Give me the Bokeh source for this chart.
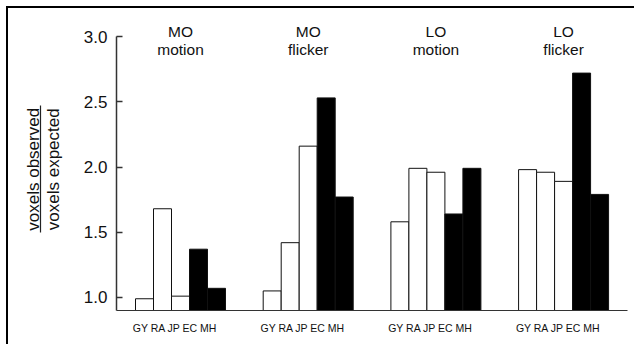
from bokeh.plotting import figure
from bokeh.models import Range1d, FixedTicker, LinearAxis, ColumnDataSource, PrintfTickFormatter, InlineStyleSheet
from bokeh.core.properties import value
from bokeh.embed import file_html
from bokeh.resources import INLINE

# ---- data ----
regions = ["MO", "MO", "LO", "LO"]
stimuli = ["motion", "flicker", "motion", "flicker"]
subjects = ["GY", "RA", "JP", "EC", "MH"]
subject_fill = ["white", "white", "white", "black", "black"]
mo_motion = [0.99, 1.68, 1.01, 1.37, 1.07]
mo_flicker = [1.05, 1.42, 2.16, 2.53, 1.77]
lo_motion = [1.58, 1.99, 1.96, 1.64, 1.99]
lo_flicker = [1.98, 1.96, 1.89, 2.72, 1.79]
y_ticks = [1.0, 1.5, 2.0, 2.5, 3.0]
numerator_label = "voxels observed"
denominator_label = "voxels expected"

groups = [mo_motion, mo_flicker, lo_motion, lo_flicker]

# ---- layout helpers ----
GROUP_STEP = 7.094
BASE = 0.9
FONT = "Liberation Sans"
PAD = "\u00a0\u00a0\u00a0\u2009"  # trailing pad to lower the rotated label slightly

xs, tops, fills = [], [], []
for g, vals in enumerate(groups):
    for i, v in enumerate(vals):
        xs.append(g * GROUP_STEP + i + 0.5)
        tops.append(v)
        fills.append(subject_fill[i])
src = ColumnDataSource(dict(x=xs, top=tops, fill=fills))

group_centers = [g * GROUP_STEP + 2.5 for g in range(len(groups))]

p = figure(width=628, height=338, output_backend="svg", toolbar_location=None,
           x_range=Range1d(-1.056, -1.056 + 511 / 18.0), y_range=Range1d(BASE, 3.2),
           x_axis_location=None, y_axis_location=None,
           min_border_left=108, min_border_right=9, min_border_top=2, min_border_bottom=36)
p.outline_line_color = None
p.xgrid.visible = False
p.ygrid.visible = False
p.background_fill_color = "white"
p.border_fill_color = "white"
p.styles = {"margin-top": "8px", "margin-left": "8px"}
p.stylesheets = [InlineStyleSheet(css=":host { box-shadow: -2px -2px 0px 0px #000000; }")]

p.vbar(x="x", top="top", bottom=BASE, width=1.0, source=src,
       fill_color="fill", line_color="#111111", line_width=1)

# group titles
p.text(x=group_centers, y=[3.04] * 4, text=regions, text_align="center",
       text_baseline="alphabetic", text_font=value(FONT), text_font_size="15.5px", text_color="#111111")
p.text(x=group_centers, y=[2.90] * 4, text=stimuli, text_align="center",
       text_baseline="alphabetic", text_font=value(FONT), text_font_size="15.5px", text_color="#111111")

# x axis
xlab_pos = [round(c - 0.3, 3) for c in group_centers]
xaxis = LinearAxis(ticker=FixedTicker(ticks=xlab_pos),
                   major_label_overrides={t: " ".join(subjects) for t in xlab_pos})
xaxis.major_tick_in = 0
xaxis.major_tick_out = 0
xaxis.minor_tick_line_color = None
xaxis.axis_line_color = "#333333"
xaxis.axis_line_width = 1.2
xaxis.major_label_text_font = FONT
xaxis.major_label_text_font_size = "10.5px"
xaxis.major_label_text_color = "#111111"
xaxis.major_label_standoff = 11
p.add_layout(xaxis, "below")

# main y axis
yaxis = LinearAxis(ticker=FixedTicker(ticks=y_ticks), bounds=(BASE, 3.0))
yaxis.major_tick_in = 6
yaxis.major_tick_out = 0
yaxis.minor_tick_line_color = None
yaxis.major_tick_line_color = "#333333"
yaxis.axis_line_color = "#333333"
yaxis.axis_line_width = 1.5
yaxis.major_tick_line_width = 1.5
yaxis.major_label_text_font = FONT
yaxis.major_label_text_font_size = "17px"
yaxis.major_label_text_color = "#111111"
yaxis.major_label_standoff = 9
yaxis.formatter = PrintfTickFormatter(format="%.1f")
p.add_layout(yaxis, "left")

# y label: denominator
ax2 = LinearAxis(ticker=FixedTicker(ticks=[]), bounds=(1.5, 2.47))
ax2.axis_line_color = None
ax2.major_tick_line_color = None
ax2.minor_tick_line_color = None
ax2.major_label_text_font_size = "0px"
ax2.axis_label = denominator_label + PAD
ax2.axis_label_text_font = FONT
ax2.axis_label_text_font_style = "normal"
ax2.axis_label_text_font_size = "17px"
ax2.axis_label_text_color = "#111111"
ax2.axis_label_standoff = 18
p.add_layout(ax2, "left")

# y label: numerator with fraction bar
ax3 = LinearAxis(ticker=FixedTicker(ticks=[]), bounds=(1.5, 2.47))
ax3.axis_line_color = "#222222"
ax3.axis_line_width = 1.2
ax3.major_tick_line_color = None
ax3.minor_tick_line_color = None
ax3.major_label_text_font_size = "0px"
ax3.axis_label = numerator_label + PAD
ax3.axis_label_text_font = FONT
ax3.axis_label_text_font_style = "normal"
ax3.axis_label_text_font_size = "17px"
ax3.axis_label_text_color = "#111111"
ax3.axis_label_standoff = -2
p.add_layout(ax3, "left")

open("out.html", "w").write(file_html(p, INLINE))
